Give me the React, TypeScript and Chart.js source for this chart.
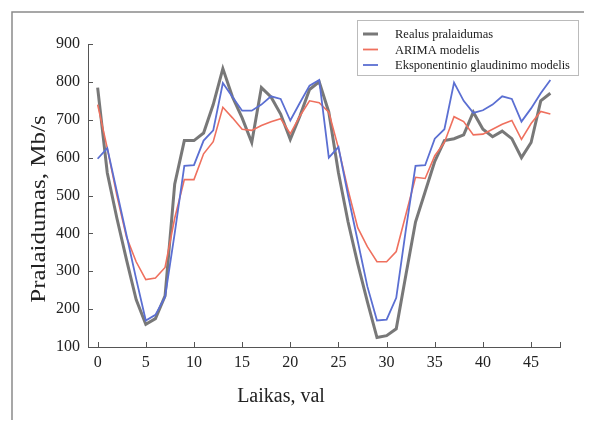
import React, { useEffect, useRef } from "react";
import { Chart, registerables } from "chart.js";

Chart.register(...registerables);

const hours = Array.from({ length: 48 }, (_, i) => i);

const realus = [
  785, 560, 440, 330, 225, 160, 175, 235, 530, 645, 645, 665, 740, 835, 760, 705,
  640, 785, 760, 715, 648, 710, 780, 800, 720, 560, 430, 320, 220, 125, 130, 148,
  290, 430, 510, 590, 645, 650, 660, 720, 675, 655, 670, 650, 600, 640, 750, 770,
];

const arima = [
  740, 625, 500, 390, 325, 278, 282, 310, 440, 542, 542, 610, 642, 733, 705, 675,
  672, 685, 695, 703, 663, 710, 750, 745, 720, 625, 515, 415, 365, 325, 325, 352,
  450, 548, 545, 605, 640, 708, 695, 660, 662, 675, 688, 698, 648, 690, 722, 715,
];

const eksp = [
  597, 625, 510, 395, 280, 170, 185, 232, 400, 578, 580, 645, 672, 797, 760, 724,
  724, 740, 762, 755, 698, 745, 790, 805, 600, 628, 500, 380, 260, 170, 172, 230,
  410, 578, 580, 650, 675, 798, 750, 718, 725, 740, 762, 755, 695, 730, 770, 805,
];

const seriesLabels = ["Realus pralaidumas", "ARIMA modelis", "Eksponentinio glaudinimo modelis"];
const seriesColors = ["rgba(105,105,105,0.9)", "#ef705e", "#5b6fd2"];
const xTicks = [0, 5, 10, 15, 20, 25, 30, 35, 40, 45];
const yTicks = [100, 200, 300, 400, 500, 600, 700, 800, 900];
const xTitle = "Laikas, val";
const yTitle = "Pralaidumas, Mb/s";

const SERIF = "'Liberation Serif', 'Times New Roman', serif";

const decorPlugin = {
  id: "decor",
  afterDraw(chart: any) {
    const ctx = chart.ctx as CanvasRenderingContext2D;
    const xs = chart.scales.x;
    const ys = chart.scales.y;
    const area = chart.chartArea;
    ctx.save();
    // outer frame
    ctx.strokeStyle = "#8a8a8a";
    ctx.lineWidth = 1.5;
    ctx.strokeRect(4, 4, 575, 520);
    // inward ticks
    ctx.strokeStyle = "#555";
    ctx.lineWidth = 1;
    ctx.beginPath();
    [...xTicks, 48].forEach((v) => {
      const px = Math.round(xs.getPixelForValue(v)) + 0.5;
      ctx.moveTo(px, area.bottom);
      ctx.lineTo(px, area.bottom - 5);
    });
    yTicks.forEach((v) => {
      const py = Math.round(ys.getPixelForValue(v)) + 0.5;
      ctx.moveTo(area.left, py);
      ctx.lineTo(area.left + 5, py);
    });
    ctx.stroke();
    // titles
    ctx.fillStyle = "#222";
    ctx.font = `20px ${SERIF}`;
    ctx.textAlign = "center";
    ctx.textBaseline = "alphabetic";
    ctx.fillText(xTitle, 273, 394);
    ctx.save();
    ctx.translate(37, 201);
    ctx.rotate(-Math.PI / 2);
    ctx.scale(1.25, 1);
    ctx.fillText(yTitle, 0, 0);
    ctx.restore();
    // legend
    const lx = 349, ly = 12, lw = 221, lh = 55;
    ctx.setLineDash([1, 1]);
    ctx.strokeStyle = "#777";
    ctx.lineWidth = 1;
    ctx.strokeRect(lx + 0.5, ly + 0.5, lw, lh);
    ctx.setLineDash([]);
    ctx.font = `12.5px ${SERIF}`;
    ctx.textAlign = "left";
    chart.data.datasets.forEach((ds: any, i: number) => {
      const y = ly + 14 + i * 15.5;
      ctx.strokeStyle = ds.borderColor;
      ctx.lineWidth = i === 0 ? 3 : 1.8;
      ctx.beginPath();
      ctx.moveTo(lx + 6, y);
      ctx.lineTo(lx + 21, y);
      ctx.stroke();
      ctx.fillStyle = "#222";
      ctx.fillText(ds.label, lx + 38, y + 4);
    });
    ctx.restore();
  },
};

export default function App() {
  const ref = useRef<HTMLCanvasElement | null>(null);
  useEffect(() => {
    if (!ref.current) return;
    const mk = (vals: number[]) => hours.map((h, i) => ({ x: h, y: vals[i] }));
    const chart = new Chart(ref.current, {
      type: "line",
      data: {
        datasets: [
          { label: seriesLabels[0], data: mk(realus), borderColor: seriesColors[0], borderWidth: 3, pointRadius: 0, order: 3, tension: 0 },
          { label: seriesLabels[1], data: mk(arima), borderColor: seriesColors[1], borderWidth: 1.6, pointRadius: 0, order: 2, tension: 0 },
          { label: seriesLabels[2], data: mk(eksp), borderColor: seriesColors[2], borderWidth: 1.8, pointRadius: 0, order: 1, tension: 0 },
        ],
      },
      options: {
        responsive: false,
        animation: false,
        layout: { padding: { left: 0, right: 24, top: 36, bottom: 0 } },
        plugins: { legend: { display: false }, tooltip: { enabled: false } },
        scales: {
          x: {
            type: "linear",
            min: -1,
            max: 48,
            afterBuildTicks: (s: any) => { s.ticks = xTicks.map((v) => ({ value: v })); },
            afterFit: (s: any) => { s.height = 73; },
            grid: { display: false, drawTicks: false },
            border: { display: true, color: "#555", width: 1 },
            ticks: { color: "#222", padding: 6, font: { family: SERIF, size: 16 }, maxRotation: 0 },
          },
          y: {
            type: "linear",
            min: 100,
            max: 900,
            afterBuildTicks: (s: any) => { s.ticks = yTicks.map((v) => ({ value: v })); },
            afterFit: (s: any) => { s.width = 80; },
            grid: { display: false, drawTicks: false },
            border: { display: true, color: "#555", width: 1 },
            ticks: { color: "#222", padding: 8, font: { family: SERIF, size: 16 } },
          },
        },
      },
      plugins: [decorPlugin],
    });
    return () => chart.destroy();
  }, []);
  return (
    <div style={{ width: 576, height: 412 }}>
      <canvas ref={ref} width={576} height={412} />
    </div>
  );
}
